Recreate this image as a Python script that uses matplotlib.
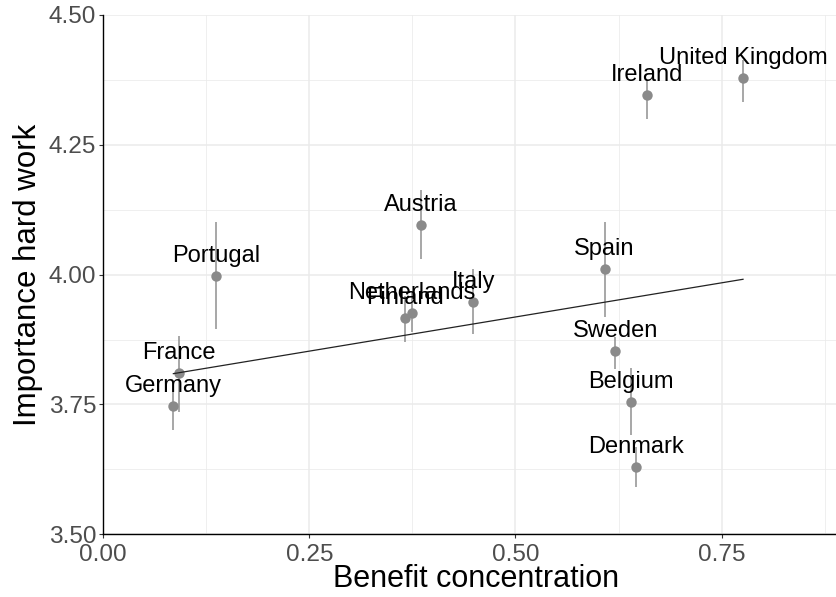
import numpy as np
import matplotlib
matplotlib.use("Agg")
import matplotlib.pyplot as plt
from matplotlib.ticker import MultipleLocator, FormatStrFormatter

plt.rcParams['font.family'] = ['Liberation Sans', 'DejaVu Sans']

# data
countries = ['Germany', 'France', 'Portugal', 'Austria', 'Finland', 'Netherlands',
             'Italy', 'Spain', 'Sweden', 'Belgium', 'Denmark', 'Ireland',
             'United Kingdom']
benefit_conc = [0.085, 0.092, 0.137, 0.385, 0.366, 0.374,
                0.449, 0.608, 0.621, 0.640, 0.646, 0.660, 0.776]
hard_work = [3.747, 3.810, 3.997, 4.095, 3.916, 3.926,
             3.947, 4.011, 3.853, 3.754, 3.629, 4.346, 4.379]
ci_low = [3.700, 3.735, 3.895, 4.030, 3.870, 3.889,
          3.885, 3.918, 3.818, 3.691, 3.591, 4.300, 4.332]
ci_high = [3.795, 3.882, 4.101, 4.163, 3.958, 3.965,
           4.011, 4.101, 3.880, 3.820, 3.668, 4.375, 4.413]

# fitted line shown in the reference
fit_intercept = 3.787
fit_slope = 0.263

x = np.array(benefit_conc)
y = np.array(hard_work)

fig = plt.figure(figsize=(8.37, 5.97), dpi=100)
ax = fig.add_axes([0.1234, 0.105, 1 - 0.1234, 0.9749 - 0.105])

# error bars and points
ax.vlines(x, ci_low, ci_high, color='#8f8f8f', linewidth=1.1, zorder=3)
ax.plot(x, y, 'o', color='#8a8a8a', markersize=7.5, markeredgewidth=0, zorder=4)

xf = np.array([x.min(), x.max()])
ax.plot(xf, fit_intercept + fit_slope * xf, color='#222222', linewidth=0.9, zorder=5)

for name, xi, yi in zip(countries, x, y):
    ax.text(xi, yi + 0.027, name, ha='center', va='baseline', fontsize=17,
            color='black', zorder=6)

ax.set_xlim(0, 0.89)
ax.set_ylim(3.5, 4.5)
ax.xaxis.set_major_locator(MultipleLocator(0.25))
ax.xaxis.set_minor_locator(MultipleLocator(0.125))
ax.yaxis.set_major_locator(MultipleLocator(0.25))
ax.yaxis.set_minor_locator(MultipleLocator(0.125))
ax.xaxis.set_major_formatter(FormatStrFormatter('%.2f'))
ax.yaxis.set_major_formatter(FormatStrFormatter('%.2f'))

ax.grid(True, which='major', color='#EBEBEB', linewidth=1.1)
ax.grid(True, which='minor', color='#EBEBEB', linewidth=0.55)
ax.set_axisbelow(True)

ax.spines['top'].set_visible(False)
ax.spines['right'].set_visible(False)
for side in ['left', 'bottom']:
    ax.spines[side].set_linewidth(1.0)
    ax.spines[side].set_color('black')

ax.tick_params(which='major', length=3, width=0.8, color='#333333',
               labelsize=17.6, labelcolor='#4D4D4D')
ax.tick_params(axis='y', which='major', pad=2)
ax.tick_params(axis='x', which='major', pad=4)
ax.tick_params(which='minor', length=0)

ax.set_xlabel('Benefit concentration', fontsize=22)
ax.xaxis.set_label_coords(0.508, -0.102)
ax.xaxis.label.set_va('baseline')
ax.set_ylabel('Importance hard work', fontsize=22.5, labelpad=4)

fig.savefig('out.png', dpi=100, facecolor='white')
